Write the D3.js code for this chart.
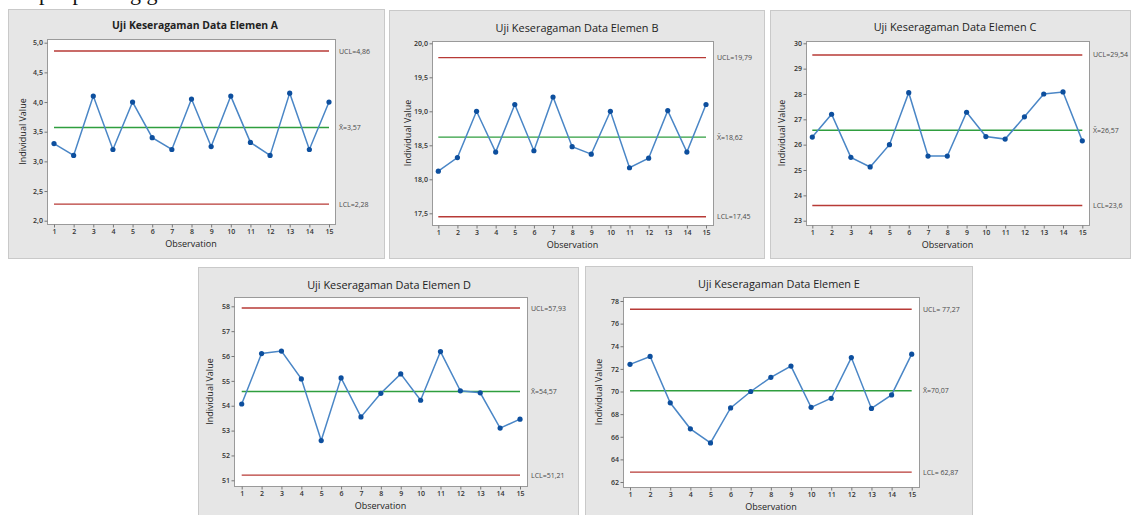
<!DOCTYPE html>
<html>
<head>
<meta charset="utf-8">
<script src="https://cdn.jsdelivr.net/npm/d3@7"></script>
<style>
  body { margin: 0; background: #fff; }
  svg { display: block; }
</style>
</head>
<body>
<svg id="chart" width="1134" height="515"></svg>
<script>
// data
var observations = [1, 2, 3, 4, 5, 6, 7, 8, 9, 10, 11, 12, 13, 14, 15];

var valuesA = [3.30, 3.10, 4.10, 3.20, 4.00, 3.40, 3.20, 4.05, 3.25, 4.10, 3.32, 3.10, 4.15, 3.20, 4.00];
var valuesB = [18.12, 18.32, 19.00, 18.40, 19.10, 18.42, 19.21, 18.48, 18.37, 19.00, 18.17, 18.31, 19.01, 18.40, 19.10];
var valuesC = [26.30, 27.20, 25.50, 25.12, 26.00, 28.05, 25.55, 25.55, 27.28, 26.32, 26.22, 27.10, 28.00, 28.08, 26.15];
var valuesD = [54.07, 56.10, 56.20, 55.08, 52.60, 55.12, 53.55, 54.50, 55.28, 54.22, 56.18, 54.60, 54.52, 53.10, 53.46];
var valuesE = [72.40, 73.10, 69.00, 66.70, 65.45, 68.55, 70.00, 71.25, 72.25, 68.60, 69.40, 73.00, 68.50, 69.70, 73.30];

var titles = ["Uji Keseragaman Data Elemen A", "Uji Keseragaman Data Elemen B", "Uji Keseragaman Data Elemen C",
              "Uji Keseragaman Data Elemen D", "Uji Keseragaman Data Elemen E"];
var uclValues = [4.86, 19.79, 29.54, 57.93, 77.27];
var meanValues = [3.57, 18.62, 26.57, 54.57, 70.07];
var lclValues = [2.28, 17.45, 23.6, 51.21, 62.87];
var uclLabels = ["UCL=4,86", "UCL=19,79", "UCL=29,54", "UCL=57,93", "UCL= 77,27"];
var meanLabels = ["X\u0304=3,57", "X\u0304=18,62", "X\u0304=26,57", "X\u0304=54,57", "X\u0304=70,07"];
var lclLabels = ["LCL=2,28", "LCL=17,45", "LCL=23,6", "LCL=51,21", "LCL= 62,87"];

var yTicksA = ["2,0", "2,5", "3,0", "3,5", "4,0", "4,5", "5,0"];
var yTicksB = ["17,5", "18,0", "18,5", "19,0", "19,5", "20,0"];
var yTicksC = ["23", "24", "25", "26", "27", "28", "29", "30"];
var yTicksD = ["51", "52", "53", "54", "55", "56", "57", "58"];
var yTicksE = ["62", "64", "66", "68", "70", "72", "74", "76", "78"];

var seriesValues = [valuesA, valuesB, valuesC, valuesD, valuesE];
var tickLabels = [yTicksA, yTicksB, yTicksC, yTicksD, yTicksE];

// layout of each panel: outer box, plot frame, pixel rows of the first/last tick, pixel columns of obs 1/15
var layout = [
  {outer: [8, 9, 384, 258],   frame: [47, 39, 335, 224],   yPix: [220.7, 42.7], xPix: [54, 329],     tx: 195, ty: 25, weight: 700, fs: 10.4},
  {outer: [389, 10, 764, 258], frame: [432, 41, 713, 225], yPix: [213.3, 43.3], xPix: [438.3, 706], tx: 577, ty: 28, weight: 400, fs: 10.9},
  {outer: [770, 10, 1130, 258], frame: [806, 41, 1089, 225], yPix: [220.7, 43.3], xPix: [812.3, 1082.3], tx: 955, ty: 27, weight: 400, fs: 10.9},
  {outer: [198, 267, 578, 516], frame: [234, 297, 527, 486], yPix: [480.3, 306.3], xPix: [241.7, 520], tx: 389, ty: 285, weight: 500, fs: 10.9},
  {outer: [585, 266, 972, 516], frame: [623, 297, 919, 487], yPix: [482, 301], xPix: [630, 911.7], tx: 779, ty: 284, weight: 500, fs: 10.9}
];

var font = "'Open Sans', 'Noto Sans', sans-serif";
var svg = d3.select("#chart");

// line of document text above the charts, cut off by the top edge
svg.append("text")
  .attr("x", 6).attr("y", -0.5)
  .attr("font-family", "'Liberation Serif', serif")
  .attr("font-size", 22)
  .attr("fill", "#111")
  .text("Output plotting grafik");

function parseTick(s) { return +s.replace(",", "."); }

layout.forEach(function(L, i) {
  var values = seriesValues[i];
  var ticks = tickLabels[i];
  var g = svg.append("g");

  g.append("rect")
    .attr("x", L.outer[0] + 0.5).attr("y", L.outer[1] + 0.5)
    .attr("width", L.outer[2] - L.outer[0]).attr("height", L.outer[3] - L.outer[1])
    .attr("fill", "#e6e6e6").attr("stroke", "#c9c9c9");

  g.append("rect")
    .attr("x", L.frame[0] + 0.5).attr("y", L.frame[1] + 0.5)
    .attr("width", L.frame[2] - L.frame[0]).attr("height", L.frame[3] - L.frame[1])
    .attr("fill", "#fff").attr("stroke", "#9a9a9a");

  var x = d3.scaleLinear().domain([1, 15]).range(L.xPix);
  var y = d3.scaleLinear()
    .domain([parseTick(ticks[0]), parseTick(ticks[ticks.length - 1])])
    .range(L.yPix);

  var yAxis = d3.axisLeft(y)
    .tickValues(ticks.map(parseTick))
    .tickFormat(function(d, j) { return ticks[j]; })
    .tickSize(3).tickSizeOuter(0).tickPadding(1.5);
  var gy = g.append("g")
    .attr("transform", "translate(" + (L.frame[0] + 0.5) + ",0)")
    .call(yAxis);

  var xAxis = d3.axisBottom(x)
    .tickValues(observations)
    .tickFormat(d3.format("d"))
    .tickSize(3).tickSizeOuter(0).tickPadding(1.5);
  var gx = g.append("g")
    .attr("transform", "translate(0," + (L.frame[3] + 0.5) + ")")
    .call(xAxis);

  [gx, gy].forEach(function(ax) {
    ax.select(".domain").remove();
    ax.selectAll("line").attr("stroke", "#777");
    ax.selectAll("text")
      .attr("font-family", font).attr("font-size", 7)
      .attr("font-weight", 600).attr("fill", "#333");
  });

  // control limits and centre line
  var limits = [
    {v: uclValues[i], c: "#b73a36", label: uclLabels[i]},
    {v: meanValues[i], c: "#2f9e3f", label: meanLabels[i]},
    {v: lclValues[i], c: "#b73a36", label: lclLabels[i]}
  ];
  limits.forEach(function(l) {
    g.append("line")
      .attr("x1", x(1)).attr("x2", x(15))
      .attr("y1", y(l.v)).attr("y2", y(l.v))
      .attr("stroke", l.c).attr("stroke-width", 1.4);
    g.append("text")
      .attr("x", L.frame[2] + 4).attr("y", y(l.v) + 2.5)
      .attr("font-family", font).attr("font-size", 7)
      .attr("font-weight", 500).attr("fill", "#4a4a4a")
      .text(l.label);
  });

  var line = d3.line()
    .x(function(d, j) { return x(observations[j]); })
    .y(function(d) { return y(d); });

  g.append("path")
    .datum(values)
    .attr("d", line)
    .attr("fill", "none")
    .attr("stroke", "#4a86c6")
    .attr("stroke-width", 1.5);

  g.selectAll("circle.pt")
    .data(values)
    .enter()
    .append("circle")
      .attr("class", "pt")
      .attr("cx", function(d, j) { return x(observations[j]); })
      .attr("cy", function(d) { return y(d); })
      .attr("r", 2.6)
      .attr("fill", "#0d4f9e");

  // titles and axis labels
  g.append("text")
    .attr("x", L.tx).attr("y", L.ty + 4)
    .attr("text-anchor", "middle")
    .attr("font-family", font).attr("font-size", L.fs)
    .attr("font-weight", L.weight).attr("fill", "#222")
    .text(titles[i]);

  g.append("text")
    .attr("x", (L.frame[0] + L.frame[2]) / 2).attr("y", L.frame[3] + 23)
    .attr("text-anchor", "middle")
    .attr("font-family", font).attr("font-size", 9)
    .attr("font-weight", 500).attr("fill", "#222")
    .text("Observation");

  var cy = (L.frame[1] + L.frame[3]) / 2;
  g.append("text")
    .attr("transform", "translate(" + (L.frame[0] - 21) + "," + cy + ") rotate(-90)")
    .attr("text-anchor", "middle")
    .attr("font-family", font).attr("font-size", 9)
    .attr("font-weight", 500).attr("fill", "#222")
    .text("Individual Value");
});
</script>
</body>
</html>
